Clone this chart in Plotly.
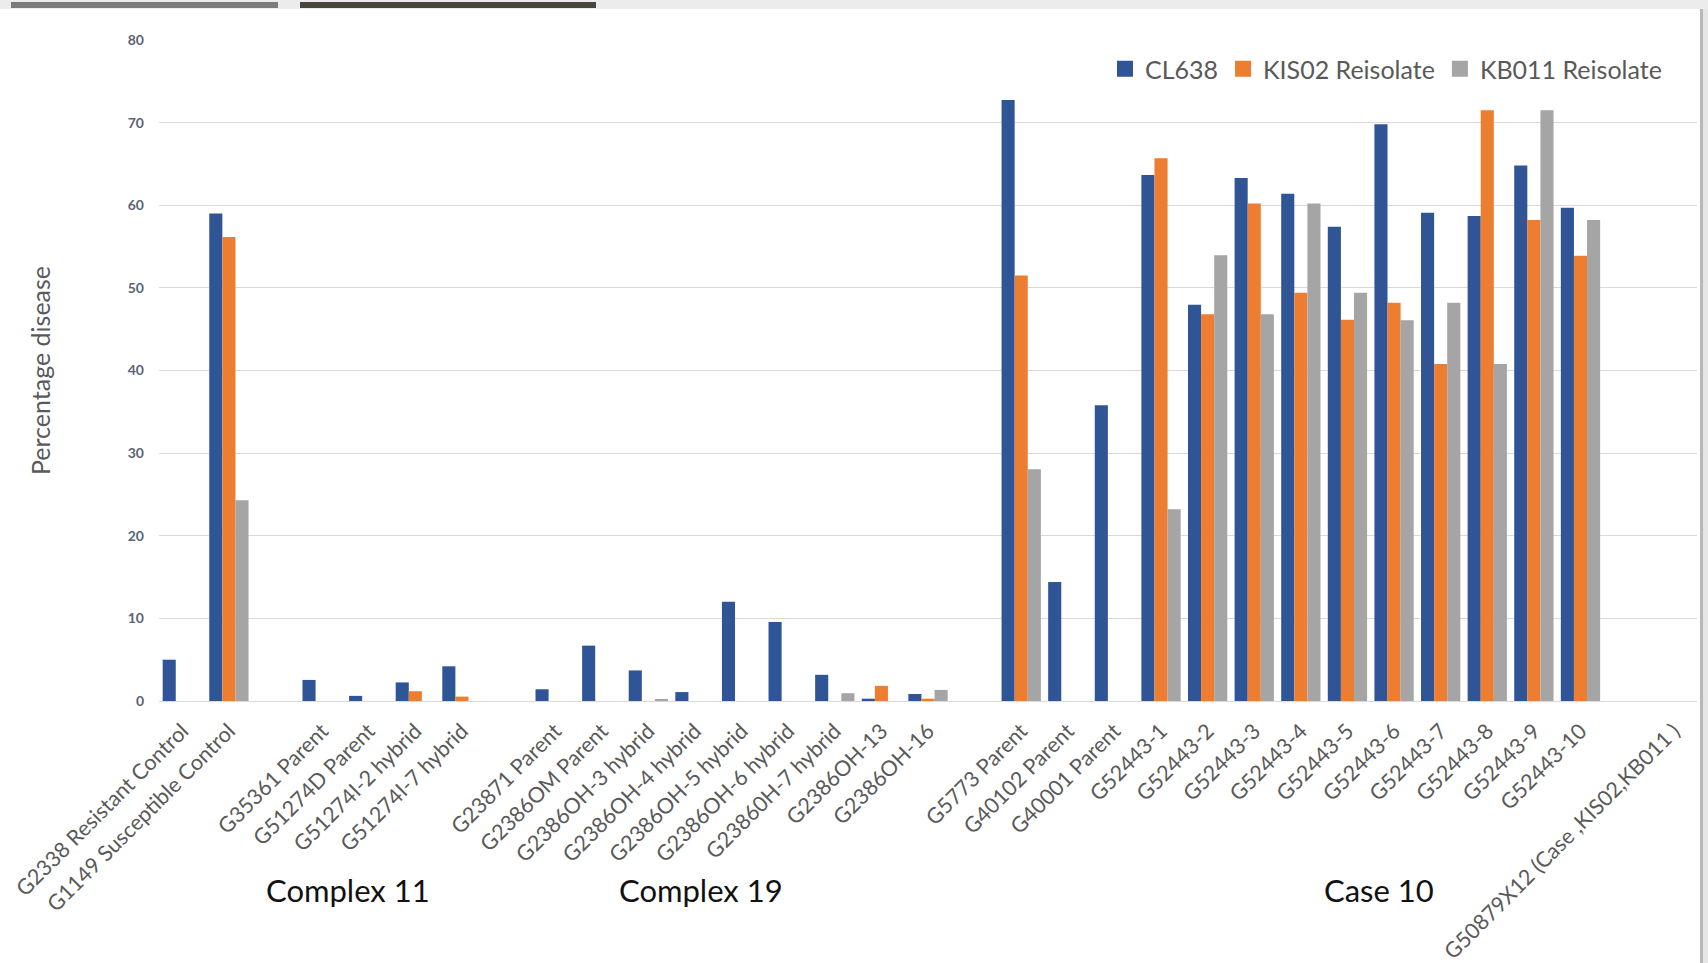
import plotly.graph_objects as go

# Genotypes along the x axis; whitespace entries are spacer slots between groups
categories = [
    "G2338 Resistant Control", "G1149 Susceptible Control", " ",
    "G35361 Parent", "G51274D Parent", "G51274I-2 hybrid", "G51274I-7 hybrid", "  ",
    "G23871 Parent", "G2386OM Parent", "G2386OH-3 hybrid", "G2386OH-4 hybrid",
    "G2386OH-5 hybrid", "G2386OH-6 hybrid", "G23860H-7 hybrid", "G2386OH-13", "G2386OH-16", "   ",
    "G5773 Parent", "G40102 Parent", "G40001 Parent",
    "G52443-1", "G52443-2", "G52443-3", "G52443-4", "G52443-5",
    "G52443-6", "G52443-7", "G52443-8", "G52443-9", "G52443-10", "    ",
    "G50879X12 (Case ,KIS02,KB011 )",
]

# Percentage disease per isolate (None = not tested)
cl638 = [5.0, 59.0, None,
         2.55, 0.62, 2.25, 4.2, None,
         1.42, 6.7, 3.7, 1.08, 12.0, 9.55, 3.17, 0.28, 0.85, None,
         72.75, 14.4, 35.8,
         63.65, 47.97, 63.3, 61.4, 57.4, 69.8, 59.1, 58.7, 64.8, 59.7, None,
         None]
kis02 = [None, 56.15, None,
         None, None, 1.18, 0.53, None,
         None, None, None, None, None, None, None, 1.83, 0.28, None,
         51.5, None, None,
         65.7, 46.8, 60.2, 49.4, 46.15, 48.2, 40.8, 71.5, 58.2, 53.9, None,
         None]
kb011 = [None, 24.3, None,
         None, None, None, None, None,
         None, None, 0.2, None, None, None, 0.94, None, 1.34, None,
         28.05, None, None,
         23.2, 53.95, 46.8, 60.2, 49.4, 46.07, 48.2, 40.8, 71.5, 58.2, None,
         None]

series = [
    ("CL638", cl638, "#2F5597"),
    ("KIS02 Reisolate", kis02, "#ED7D31"),
    ("KB011 Reisolate", kb011, "#A5A5A5"),
]

# Group captions placed under the tick labels (x in category-index units)
groups = [("Complex 11", 3.55), ("Complex 19", 11.14), ("Case 10", 25.68)]

W, H = 1708, 963
L, R, T, B = 159, 11, 40, 262

fig = go.Figure()
for name, vals, color in series:
    fig.add_trace(go.Bar(name=name, x=categories, y=vals, marker_color=color,
                         marker_line_width=0, legendgroup=name, showlegend=False))
# legend entries with larger square swatches
for name, vals, color in series:
    fig.add_trace(go.Scatter(name=name, x=[None], y=[None], mode="markers",
                             marker=dict(symbol="square", size=17, color=color),
                             legendgroup=name, showlegend=True, hoverinfo="skip"))

def px_x(p):
    return (p - L) / (W - L - R)

def px_y(p):
    return (H - B - p) / (H - T - B)

shapes = [
    # grey window strip along the top edge
    dict(type="rect", xref="paper", yref="paper", x0=px_x(0), x1=px_x(W),
         y0=px_y(9), y1=px_y(0), fillcolor="#ECECEC", line_width=0, layer="below"),
    dict(type="rect", xref="paper", yref="paper", x0=px_x(11), x1=px_x(278),
         y0=px_y(8), y1=px_y(2), fillcolor="#7C7C7C", line_width=0),
    dict(type="rect", xref="paper", yref="paper", x0=px_x(300), x1=px_x(596),
         y0=px_y(8), y1=px_y(2), fillcolor="#4A463D", line_width=0),
    # frame on the right edge
    dict(type="rect", xref="paper", yref="paper", x0=px_x(1700), x1=px_x(1703),
         y0=px_y(H), y1=px_y(9), fillcolor="#B8B8B8", line_width=0),
    dict(type="rect", xref="paper", yref="paper", x0=px_x(1703), x1=px_x(W),
         y0=px_y(H), y1=px_y(9), fillcolor="#E6E6E6", line_width=0),
]

annotations = [
    dict(text=txt, x=xi, xref="x", y=px_y(890), yref="paper", showarrow=False,
         xanchor="center", yanchor="middle",
         font=dict(family="Lato", size=31, color="#111111"))
    for txt, xi in groups
]

fig.update_layout(
    width=W, height=H,
    margin=dict(l=L, r=R, t=T, b=B, autoexpand=False),
    paper_bgcolor="white", plot_bgcolor="white",
    barmode="group", bargap=0.157, bargroupgap=0,
    font=dict(family="Lato", color="#595959"),
    legend=dict(orientation="h", x=px_x(1667), xanchor="right",
                y=px_y(69), yanchor="middle", bgcolor="rgba(0,0,0,0)",
                font=dict(family="Lato", size=25, color="#595959"),
                traceorder="normal", itemsizing="trace"),
    shapes=shapes,
    annotations=annotations,
    showlegend=True,
)
fig.update_xaxes(
    type="category", categoryorder="array", categoryarray=categories,
    tickangle=-45, tickfont=dict(family="Lato", size=21.5, color="#595959"),
    ticklabelstandoff=8,
    showline=True, linecolor="#D9D9D9", linewidth=1, showgrid=False,
    ticks="", automargin=False,
)
fig.update_yaxes(
    range=[0, 80], dtick=10, showgrid=True, gridcolor="#D9D9D9", gridwidth=1,
    zeroline=False, showline=False, ticks="",
    tickfont=dict(family="Lato", size=14, color="#5B6475", weight="bold"),
    ticklabelstandoff=14, automargin=False,
    title=dict(text="Percentage disease", standoff=70,
               font=dict(family="Lato", size=25, color="#595959")),
)

fig.write_html("out.html")
